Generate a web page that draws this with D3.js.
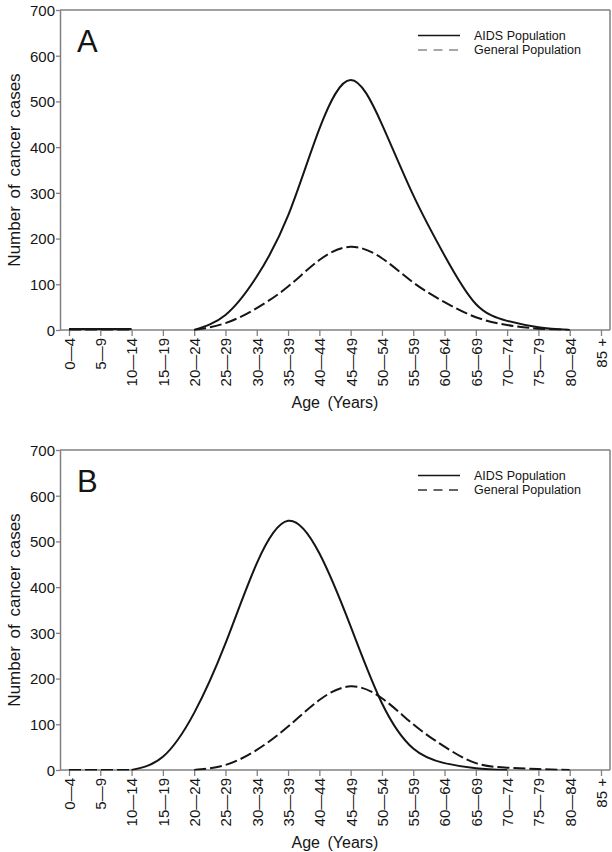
<!DOCTYPE html>
<html>
<head>
<meta charset="utf-8">
<script src="https://cdn.jsdelivr.net/npm/d3@7"></script>
<style>
  html, body { margin: 0; padding: 0; background: #fff; }
  svg { display: block; font-family: "Liberation Sans", Arial, sans-serif; }
</style>
</head>
<body>
<svg id="chart" width="612" height="852"></svg>
<script>
// ---- data ----
const categories = ["0\u20144","5\u20149","10\u201414","15\u201419","20\u201424","25\u201429","30\u201434","35\u201439","40\u201444","45\u201449","50\u201454","55\u201459","60\u201464","65\u201469","70\u201474","75\u201479","80\u201484","85 +"];
const yTicks = [0, 100, 200, 300, 400, 500, 600, 700];
const seriesNames = ["AIDS Population", "General Population"];
const panelLabels = ["A", "B"];
const aidsA    = [2, 2, 2, null, 0, 33, 117, 250, 440, 547, 450, 295, 163, 57, 20, 6, 0, null];
const generalA = [0, 0, 0, null, 0, 15, 48, 95, 153, 182, 157, 104, 61, 28, 11, 3, 0, null];
const aidsB    = [null, null, 0, 29, 125, 277, 452, 545, 474, 314, 146, 47, 15, 4, 0, null, null, null];
const generalB = [0, 0, 0, null, 0, 11, 44, 95, 153, 183, 157, 100, 51, 15, 5, 2, 0, null];
const yTitle = "Number of cancer cases";
const xTitle = "Age (Years)";

// ---- layout ----
const svg = d3.select("#chart");
const panels = [
  { label: panelLabels[0], aids: aidsA, general: generalA, top: 10, legendDash: "#8a8a8a" },
  { label: panelLabels[1], aids: aidsB, general: generalB, top: 450, legendDash: "#333" }
];
const left = 60, right = 610, plotH = 320;
const axisColor = "#808080";
const inkColor = "#151515";

const x = d3.scalePoint().domain(categories).range([69, 601]).padding(0);

panels.forEach((p, pi) => {
  const g = svg.append("g").attr("transform", `translate(0,${p.top})`);
  const y = d3.scaleLinear().domain([0, 700]).range([plotH, 0]);

  const clipId = "clip" + pi;
  g.append("clipPath").attr("id", clipId).append("rect")
    .attr("x", left).attr("y", 0).attr("width", right - left).attr("height", plotH + 0.5);

  // frame (top and right)
  g.append("line").attr("x1", left).attr("x2", right).attr("y1", 0).attr("y2", 0)
    .attr("stroke", axisColor).attr("stroke-width", 1.5);
  g.append("line").attr("x1", right).attr("x2", right).attr("y1", 0).attr("y2", plotH)
    .attr("stroke", axisColor).attr("stroke-width", 1.5);

  // y axis
  const ya = g.append("g").attr("transform", `translate(${left},0)`)
    .call(d3.axisLeft(y).tickValues(yTicks).tickSize(4).tickPadding(1).tickSizeOuter(0));
  ya.select(".domain").attr("stroke", axisColor).attr("stroke-width", 1.5);
  ya.selectAll(".tick line").attr("stroke", axisColor).attr("stroke-width", 1.3);
  ya.selectAll(".tick text").attr("font-size", 15).attr("fill", inkColor)
    .attr("font-family", "Liberation Sans, Arial, sans-serif").attr("dy", "0.36em");

  // x axis
  const xa = g.append("g").attr("transform", `translate(0,${plotH})`)
    .call(d3.axisBottom(x).tickSize(6).tickSizeOuter(0));
  xa.select(".domain").attr("stroke", axisColor).attr("stroke-width", 1.5)
    .attr("d", `M${left},0H${right}`);
  xa.selectAll(".tick line").attr("stroke", axisColor).attr("stroke-width", 1.3);
  xa.selectAll(".tick text")
    .attr("font-size", 15).attr("fill", inkColor)
    .attr("font-family", "Liberation Sans, Arial, sans-serif")
    .attr("text-anchor", "end")
    .attr("transform", "rotate(-90)")
    .attr("x", -8).attr("y", 0).attr("dy", "0.36em");

  // titles
  g.append("text").attr("transform", `translate(20,${plotH / 2}) rotate(-90)`)
    .attr("text-anchor", "middle").attr("font-size", 17).attr("fill", inkColor)
    .attr("word-spacing", 3).text(yTitle);
  g.append("text").attr("x", (left + right) / 2).attr("y", plotH + 78)
    .attr("text-anchor", "middle").attr("font-size", 16).attr("fill", inkColor)
    .attr("word-spacing", 3).text(xTitle);

  // panel label
  g.append("text").attr("x", 77).attr("y", 42).attr("font-size", 31)
    .attr("fill", inkColor).text(p.label);

  // lines
  const line = d3.line()
    .defined(d => d != null)
    .x((d, i) => x(categories[i]))
    .y(d => y(d))
    .curve(d3.curveNatural);
  const lines = g.append("g").attr("clip-path", `url(#${clipId})`);
  lines.append("path").datum(p.general).attr("d", line)
    .attr("fill", "none").attr("stroke", inkColor).attr("stroke-width", 2)
    .attr("stroke-dasharray", "12,4");
  lines.append("path").datum(p.aids).attr("d", line)
    .attr("fill", "none").attr("stroke", inkColor).attr("stroke-width", 2);

  // legend
  const lg = g.append("g");
  lg.append("line").attr("x1", 418).attr("x2", 460).attr("y1", 25.5).attr("y2", 25.5)
    .attr("stroke", inkColor).attr("stroke-width", 1.6);
  lg.append("line").attr("x1", 418).attr("x2", 460).attr("y1", 40).attr("y2", 40)
    .attr("stroke", p.legendDash).attr("stroke-width", 1.6).attr("stroke-dasharray", "9,6.5");
  lg.append("text").attr("x", 474).attr("y", 29.5).attr("font-size", 12.5)
    .attr("fill", inkColor).text(seriesNames[0]);
  lg.append("text").attr("x", 474).attr("y", 43.5).attr("font-size", 12.5)
    .attr("fill", inkColor).text(seriesNames[1]);
});
</script>
</body>
</html>
